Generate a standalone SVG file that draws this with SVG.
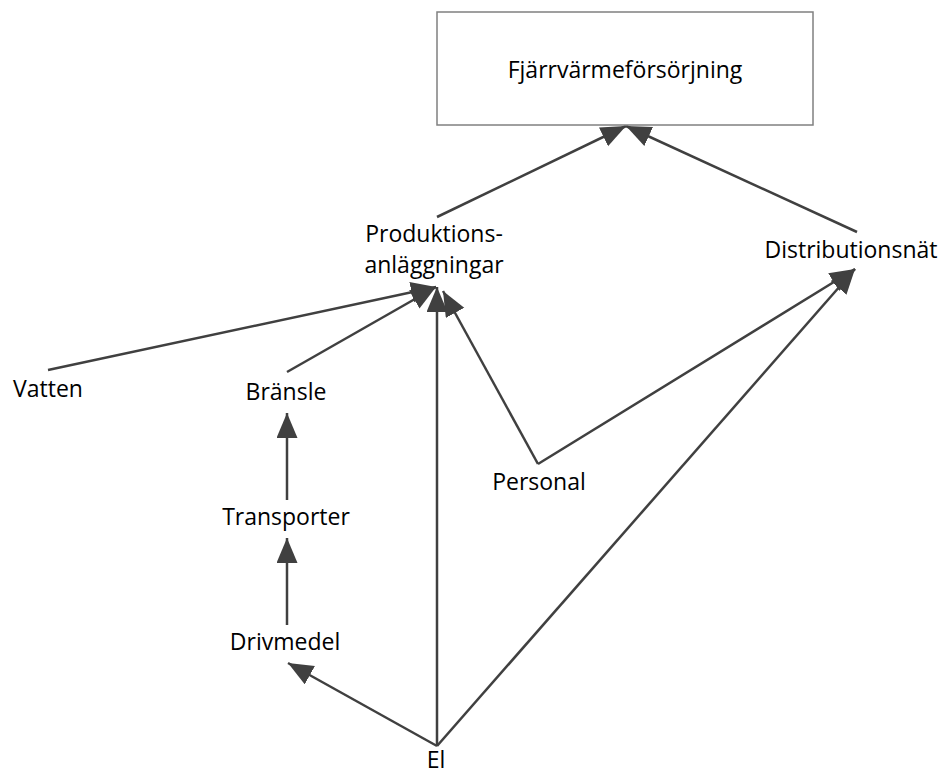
<svg xmlns="http://www.w3.org/2000/svg" width="946" height="774" viewBox="0 0 946 774">
  <style>
    .lbl { font-family: "Open Sans", "Liberation Sans", sans-serif; font-size: 23px; fill: #000; text-anchor: middle; }
    .edge { stroke: #404040; stroke-width: 2.5; fill: none; marker-end: url(#arrow); }
    .box { fill: #fff; stroke: #808080; stroke-width: 1.5; }
  </style>
  <defs>
    <marker id="arrow" markerUnits="userSpaceOnUse" markerWidth="27" markerHeight="22" refX="25" refY="10.5" orient="auto">
      <path d="M0,0 L25,10.5 L0,21 z" fill="#404040"/>
    </marker>
  </defs>
  <rect width="946" height="774" fill="#fff"/>

  <g id="connectors">
    <line class="edge" x1="437" y1="217" x2="626" y2="126"/>
    <line class="edge" x1="857" y1="232" x2="626" y2="126"/>
    <line class="edge" x1="48" y1="370" x2="436" y2="287"/>
    <line class="edge" x1="287" y1="372" x2="436" y2="287"/>
    <line class="edge" x1="437" y1="746" x2="437" y2="287"/>
    <line class="edge" x1="538" y1="464" x2="443" y2="291"/>
    <line class="edge" x1="538" y1="464" x2="855" y2="269"/>
    <line class="edge" x1="437" y1="746" x2="855" y2="269"/>
    <line class="edge" x1="287" y1="500" x2="287" y2="413"/>
    <line class="edge" x1="287" y1="625" x2="287" y2="538"/>
    <line class="edge" x1="437" y1="746" x2="288" y2="663"/>
  </g>

  <g id="fjarrvarmeforsorjning">
    <rect class="box" x="437" y="12" width="376" height="113"/>
    <text class="lbl" x="625" y="78">Fjärrvärmeförsörjning</text>
  </g>
  <g id="produktionsanlaggningar">
    <text class="lbl" x="434" y="242">Produktions-</text>
    <text class="lbl" x="434" y="273">anläggningar</text>
  </g>
  <g id="distributionsnat">
    <text class="lbl" x="851" y="258">Distributionsnät</text>
  </g>
  <g id="vatten">
    <text class="lbl" x="48" y="397">Vatten</text>
  </g>
  <g id="bransle">
    <text class="lbl" x="286" y="400">Bränsle</text>
  </g>
  <g id="personal">
    <text class="lbl" x="539" y="490">Personal</text>
  </g>
  <g id="transporter">
    <text class="lbl" x="286" y="525">Transporter</text>
  </g>
  <g id="drivmedel">
    <text class="lbl" x="285" y="650">Drivmedel</text>
  </g>
  <g id="el">
    <text class="lbl" x="436" y="768">El</text>
  </g>
</svg>
